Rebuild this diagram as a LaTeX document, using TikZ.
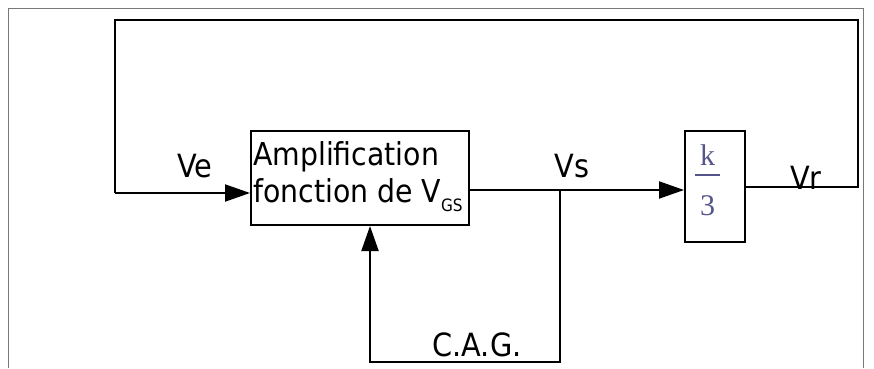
\documentclass[tikz,border=0pt]{standalone}
\usepackage{amsmath}
\usepackage{fontspec}
\setmainfont{DejaVu Sans Condensed}
\newfontfamily\kserif{Liberation Serif}
\usepackage{tikz}
\usetikzlibrary{arrows.meta,positioning,calc}
\definecolor{kblue}{RGB}{85,85,140}
\definecolor{framegray}{RGB}{120,120,120}

\begin{document}
\begin{tikzpicture}[x=1pt, y=1pt,
    box/.style={rectangle, draw, line width=2pt, inner sep=0pt},
    sig/.style={line width=2pt},
    arrow/.style={sig, -{Triangle[length=25pt, width=17pt]}},
    lbl/.style={font=\fontsize{32}{38}\selectfont}
]
\useasboundingbox (0,0) rectangle (874,368);
% frame
\draw[framegray, line width=1pt] (8,0) -- (8,360) -- (863,360) -- (863,0);

% blocks
\node[box, minimum width=218pt, minimum height=94pt] (ampli) at (360,190) {};
\node[anchor=base west, align=left, inner sep=0pt, font=\fontsize{31.5}{37}\selectfont] (amplitxt) at (253,166)
    {Amplification\\fonction de V\raisebox{-9pt}{\fontsize{17}{17}\selectfont GS}};
\node[box, minimum width=60pt, minimum height=111pt] (gain) at (715,181.5) {};
\node[kblue, anchor=base, inner sep=0pt, font=\fontsize{30}{30}\selectfont\kserif] (kfrac) at (707.5,203)
    {\begin{tabular}[t]{@{}c@{}}k\\[-19pt]\rule{25pt}{2.5pt}\\[9pt]3\end{tabular}};

% junctions and corners
\coordinate (vsnode) at (560,178);
\coordinate (cagr) at (560,6);
\coordinate (cagl) at (370,6);
\coordinate (vrr) at (858,181);
\coordinate (topr) at (858,348);
\coordinate (topl) at (115,348);
\coordinate (vel) at (115,175);

% signal paths
\draw[sig] (ampli.east |- vsnode) -- (vsnode);
\draw[arrow] (vsnode) -- (gain.west |- vsnode);
\draw[sig] (gain.east |- vrr) -- (vrr) -- (topr) -- (topl) -- (vel);
\draw[arrow] (vel) -- (ampli.west |- vel);
\draw[arrow] (vsnode) -- (cagr) -- (cagl) -- (ampli.south -| cagl);

% labels
\node[lbl] (ve) at (195,202) {Ve};
\node[lbl] (vs) at (572,202) {Vs};
\node[lbl] (vr) at (806,190) {Vr};
\node[lbl] (cag) at (477,23) {C.A.G.};
\end{tikzpicture}
\end{document}
